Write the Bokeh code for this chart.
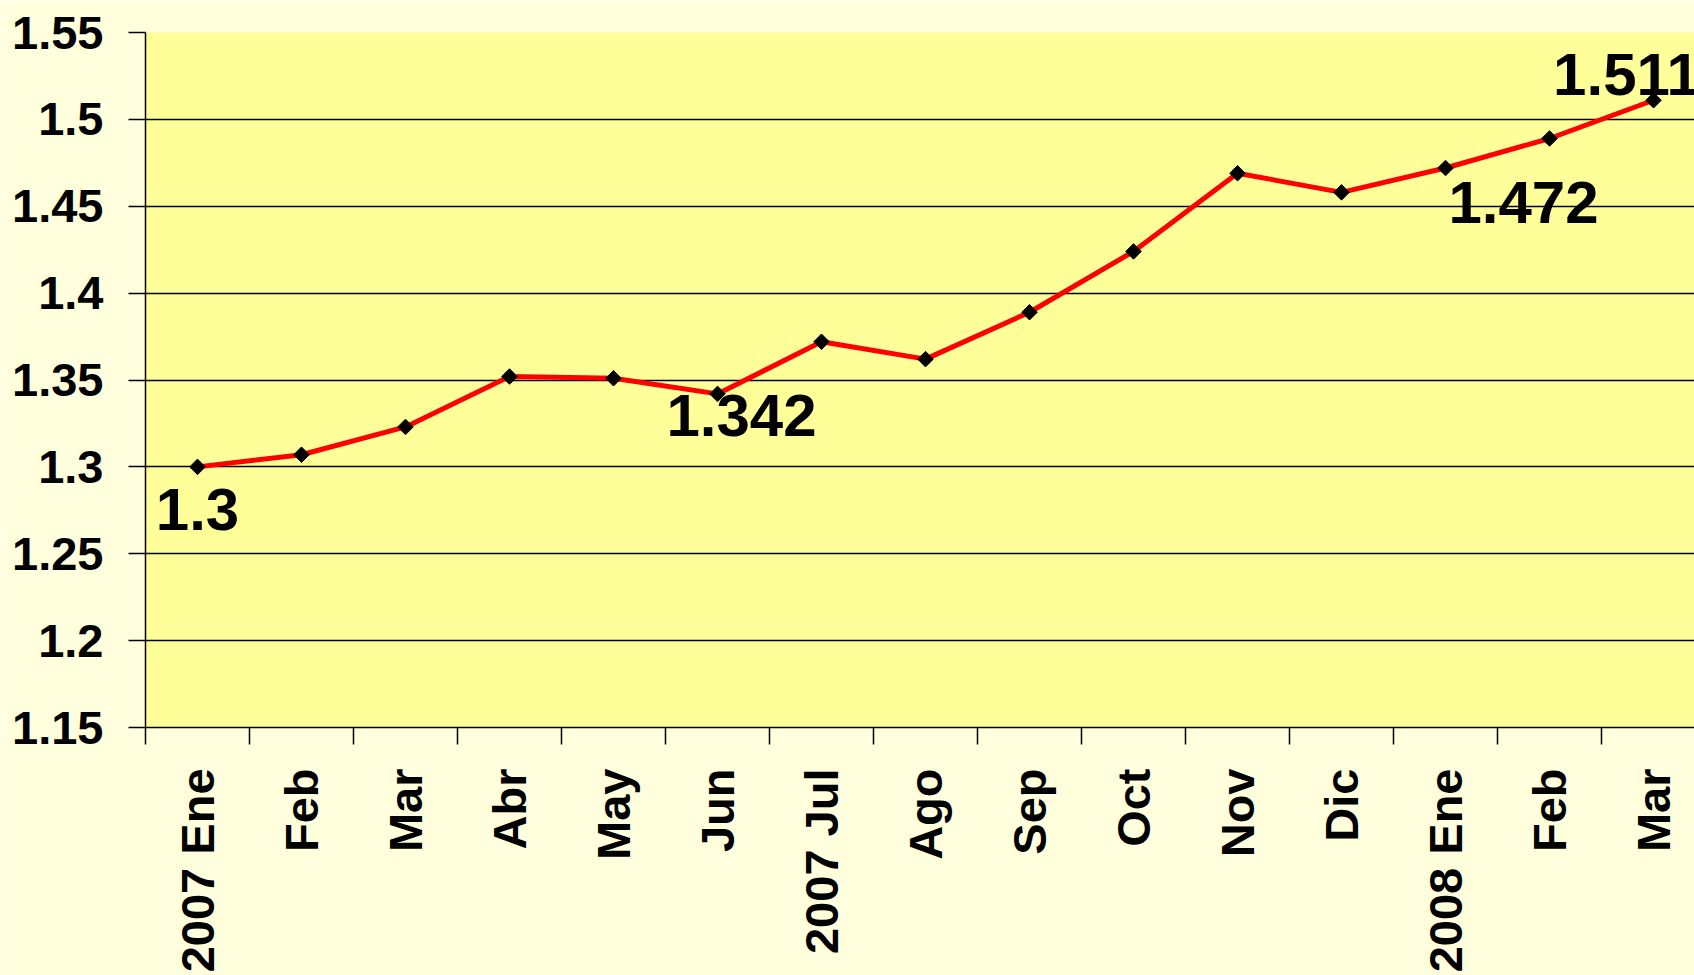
import math
from bokeh.plotting import figure
from bokeh.models import FixedTicker, CustomJSTickFormatter, Range1d, ColumnDataSource
from bokeh.core.properties import value
from bokeh.embed import file_html
from bokeh.resources import INLINE

months = ["2007 Ene", "Feb", "Mar", "Abr", "May", "Jun", "2007 Jul", "Ago",
          "Sep", "Oct", "Nov", "Dic", "2008 Ene", "Feb", "Mar"]
rates = [1.300, 1.307, 1.323, 1.352, 1.351, 1.342, 1.372, 1.362,
         1.389, 1.424, 1.469, 1.458, 1.472, 1.489, 1.511]
y_ticks = [1.15, 1.2, 1.25, 1.3, 1.35, 1.4, 1.45, 1.5, 1.55]
y_tick_labels = ["1.15", "1.2", "1.25", "1.3", "1.35", "1.4", "1.45", "1.5", "1.55"]
labelled_idx = [0, 5, 12, 14]

# label placement (screen px) – style only
lab_dx = [0, 24, 78, -27]
lab_dy = [43, 22, 34, -26]

FONT = "Liberation Sans"
xs = list(range(len(months)))

p = figure(width=1694, height=975, output_backend="svg", toolbar_location=None,
           x_range=Range1d(-0.5, 14.394), y_range=Range1d(1.15, 1.55),
           min_border_left=145, min_border_top=32, min_border_right=0,
           min_border_bottom=246)
p.background_fill_color = "#FFFF99"
p.border_fill_color = "#FFFFDD"
p.outline_line_color = None

# grid
p.xgrid.visible = False
p.ygrid.ticker = FixedTicker(ticks=y_ticks[1:])
p.ygrid.grid_line_color = "black"
p.ygrid.grid_line_width = 1.5

# y axis
ya = p.yaxis[0]
ya.ticker = FixedTicker(ticks=y_ticks)
ya.formatter = CustomJSTickFormatter(args=dict(yvals=y_ticks, ylabels=y_tick_labels), code="""
let best = 0, d = 1e9;
for (let i = 0; i < yvals.length; i++) { const dd = Math.abs(yvals[i] - tick); if (dd < d) { d = dd; best = i; } }
return ylabels[best];
""")
ya.major_tick_out = 17
ya.major_tick_in = 0
ya.minor_tick_line_color = None
ya.major_tick_line_color = "black"
ya.major_tick_line_width = 1.5
ya.axis_line_color = "black"
ya.axis_line_width = 1.5
ya.major_label_standoff = 25
ya.major_label_text_font = FONT
ya.major_label_text_font_style = "bold"
ya.major_label_text_font_size = "47px"
ya.major_label_text_color = "black"

# x axis
xa = p.xaxis[0]
xa.ticker = FixedTicker(ticks=xs, minor_ticks=[i - 0.5 for i in range(len(months) + 1)])
xa.formatter = CustomJSTickFormatter(args=dict(mlabels=months), code="""
const i = Math.round(tick);
return (i >= 0 && i < mlabels.length) ? mlabels[i] : '';
""")
xa.major_tick_line_color = None
xa.major_tick_out = 17
xa.major_tick_in = 0
xa.minor_tick_out = 17
xa.minor_tick_in = 0
xa.minor_tick_line_color = "black"
xa.minor_tick_line_width = 1.5
xa.axis_line_color = "black"
xa.axis_line_width = 1.5
xa.major_label_orientation = math.pi / 2
xa.major_label_standoff = 24
xa.major_label_text_font = FONT
xa.major_label_text_font_style = "bold"
xa.major_label_text_font_size = "47px"
xa.major_label_text_color = "black"

src = ColumnDataSource(dict(x=xs, y=rates))
p.line("x", "y", source=src, line_color="#FF0000", line_width=5)
p.scatter("x", "y", source=src, marker="square", angle=math.pi / 4, size=11,
          fill_color="black", line_color="black")

lab_src = ColumnDataSource(dict(
    x=[xs[i] for i in labelled_idx],
    y=[rates[i] for i in labelled_idx],
    t=[f"{rates[i]:g}" for i in labelled_idx],
    dx=lab_dx, dy=lab_dy))
p.text("x", "y", text="t", source=lab_src, x_offset="dx", y_offset="dy",
       text_align="center", text_baseline="alphabetic",
       text_font=value(FONT), text_font_style="bold", text_font_size="60px",
       text_color="black")

open("out.html", "w").write(file_html(p, INLINE))
